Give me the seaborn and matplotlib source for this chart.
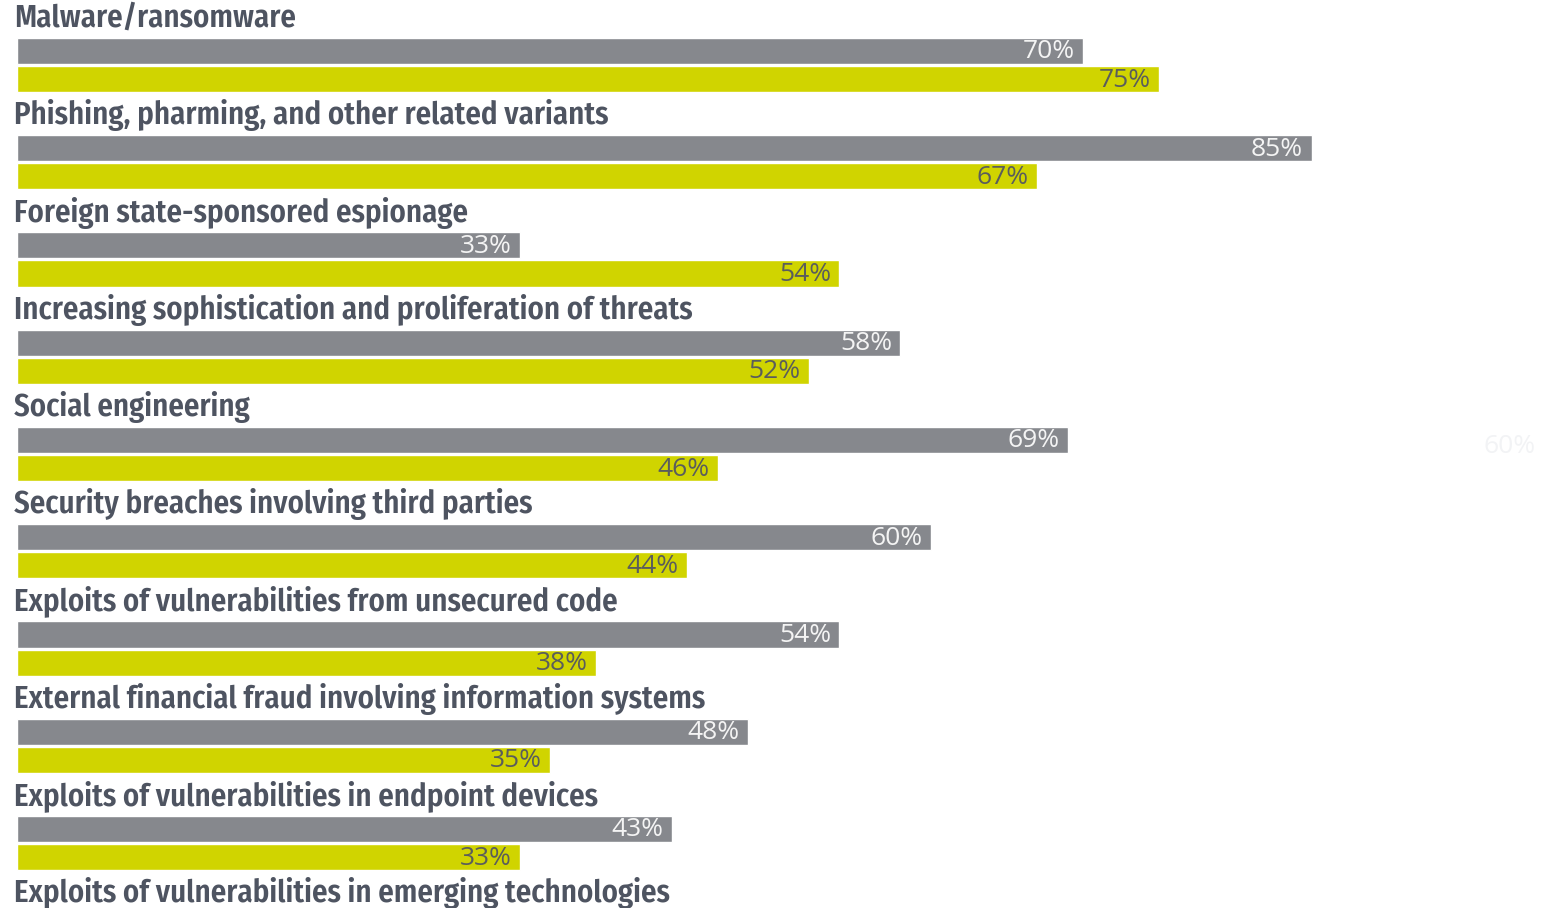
import matplotlib
matplotlib.use("Agg")
import matplotlib.pyplot as plt
import seaborn as sns
import pandas as pd
import numpy as np

categories = [
    "Malware/ransomware",
    "Phishing, pharming, and other related variants",
    "Foreign state-sponsored espionage",
    "Increasing sophistication and proliferation of threats",
    "Social engineering",
    "Security breaches involving third parties",
    "Exploits of vulnerabilities from unsecured code",
    "External financial fraud involving information systems",
    "Exploits of vulnerabilities in endpoint devices",
    "Exploits of vulnerabilities in emerging technologies",
]
grey_values = [70, 85, 33, 58, 69, 60, 54, 48, 43]
yellow_values = [75, 67, 54, 52, 46, 44, 38, 35, 33]
series_names = ["Series 1", "Series 2"]
ghost_label = "60%"

GREY = "#86888d"
YELLOW = "#d0d400"
LABEL_COLOR = "#4e5461"

rows = []
for c, g, y in zip(categories, grey_values, yellow_values):
    rows.append({"category": c, "series": series_names[0], "value": g})
    rows.append({"category": c, "series": series_names[1], "value": y})
df = pd.DataFrame(rows)

sns.set_theme(style="white")
plt.rcParams["font.family"] = ["Open Sans", "DejaVu Sans"]

fig = plt.figure(figsize=(15.45, 9.08), dpi=100)
left = 17 / 1545
ax = fig.add_axes([left, 0, 1 - left, 1])

sns.barplot(
    data=df, y="category", x="value", hue="series", order=categories,
    hue_order=series_names, palette=[GREY, YELLOW], orient="h",
    width=0.58, gap=0.07, legend=False, ax=ax, saturation=1,
)

ax.set_xlim(0, 1528 / 15.23)
ax.set_ylim(len(categories) - 1 - 0.332, -0.668)
ax.set_xlabel("")
ax.set_ylabel("")
ax.set_xticks([])
ax.set_yticks([])
for s in ax.spines.values():
    s.set_visible(False)

label_family = ["Fira Sans Condensed", "Open Sans Condensed", "Asap Condensed", "DejaVu Sans"]

# category labels above each pair of bars
for i, c in enumerate(categories):
    ax.text(-0.2, i - 0.39, c, ha="left", va="baseline",
            fontsize=22.2, fontweight="semibold", color=LABEL_COLOR,
            family=label_family)

# value labels inside bar ends
for container, color in zip(ax.containers, ["#f4f4f4", "#5a5d5c"]):
    for p in container.patches:
        w = p.get_width()
        if not np.isfinite(w) or w <= 0:
            continue
        yc = p.get_y() + p.get_height() / 2
        ax.text(w - 0.55, yc + 0.01, f"{w:.0f}%", ha="right", va="center",
                fontsize=19, color=color)

# faint ghost label at the right
ax.text(98.0, 4 - 0.08, ghost_label, ha="center", va="center",
        fontsize=19, color="#f2f3f5")

fig.savefig("out.png", dpi=100)
